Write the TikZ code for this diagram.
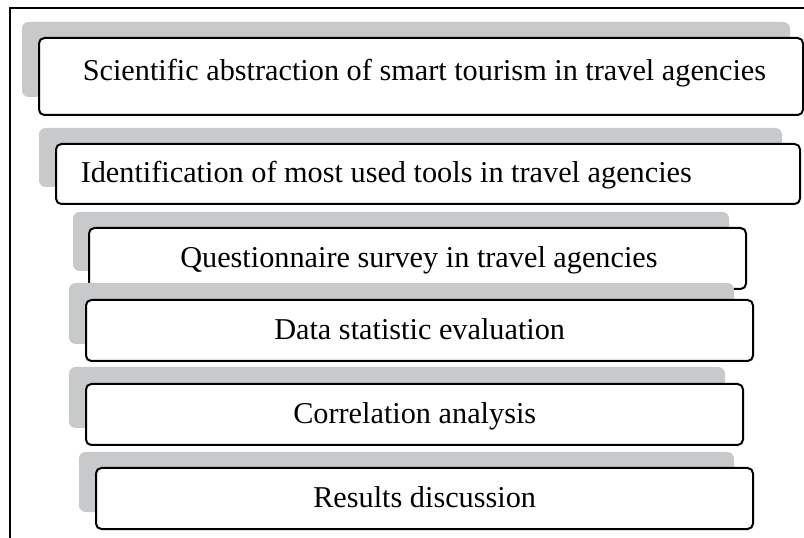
\documentclass[tikz,border=0pt]{standalone}
\usepackage{fontspec}
\setmainfont{Liberation Serif}
\usepackage{tikz}

\definecolor{backgray}{RGB}{200,201,203}

\tikzset{
    back/.style={fill=backgray, rounded corners=5pt},
    stepframe/.style={draw, fill=white, line width=1.5pt, rounded corners=4pt},
    steptext/.style={font=\fontsize{22.7}{27}\selectfont, inner sep=0pt, anchor=base west}
}

\begin{document}
\begin{tikzpicture}[x=0.75pt, y=-0.75pt]
    \useasboundingbox (0,0) rectangle (804,538);

    % Outer frame
    \draw[line width=0.8pt] (10,538) -- (10,8) -- (804,8);

    % Step 1
    \fill[back] (22,22) rectangle (790,97);
    \draw[stepframe] (39,38) rectangle (803,115);
    \node[steptext] (abstraction) at (82.5,80.7) {Scientific abstraction of smart tourism in travel agencies};

    % Step 2
    \fill[back] (39,128) rectangle (782,187);
    \draw[stepframe] (56,144) rectangle (800,204);
    \node[steptext] (tools) at (80.5,183) {Identification of most used tools in travel agencies};

    % Step 3
    \fill[back] (73,212) rectangle (729,271);
    \draw[stepframe] (89,228) rectangle (746,289);
    \node[steptext] (survey) at (180,267.3) {Questionnaire survey in travel agencies};

    % Step 4
    \fill[back] (69,283) rectangle (734,344);
    \draw[stepframe] (86,300) rectangle (753,361);
    \node[steptext] (evaluation) at (274,340) {Data statistic evaluation};

    % Step 5
    \fill[back] (69,367) rectangle (725,428);
    \draw[stepframe] (86,384) rectangle (743,445);
    \node[steptext] (correlation) at (293,424) {Correlation analysis};

    % Step 6
    \fill[back] (79,452) rectangle (734,512);
    \draw[stepframe] (96,468) rectangle (753,529);
    \node[steptext] (results) at (313,508) {Results discussion};
\end{tikzpicture}
\end{document}
